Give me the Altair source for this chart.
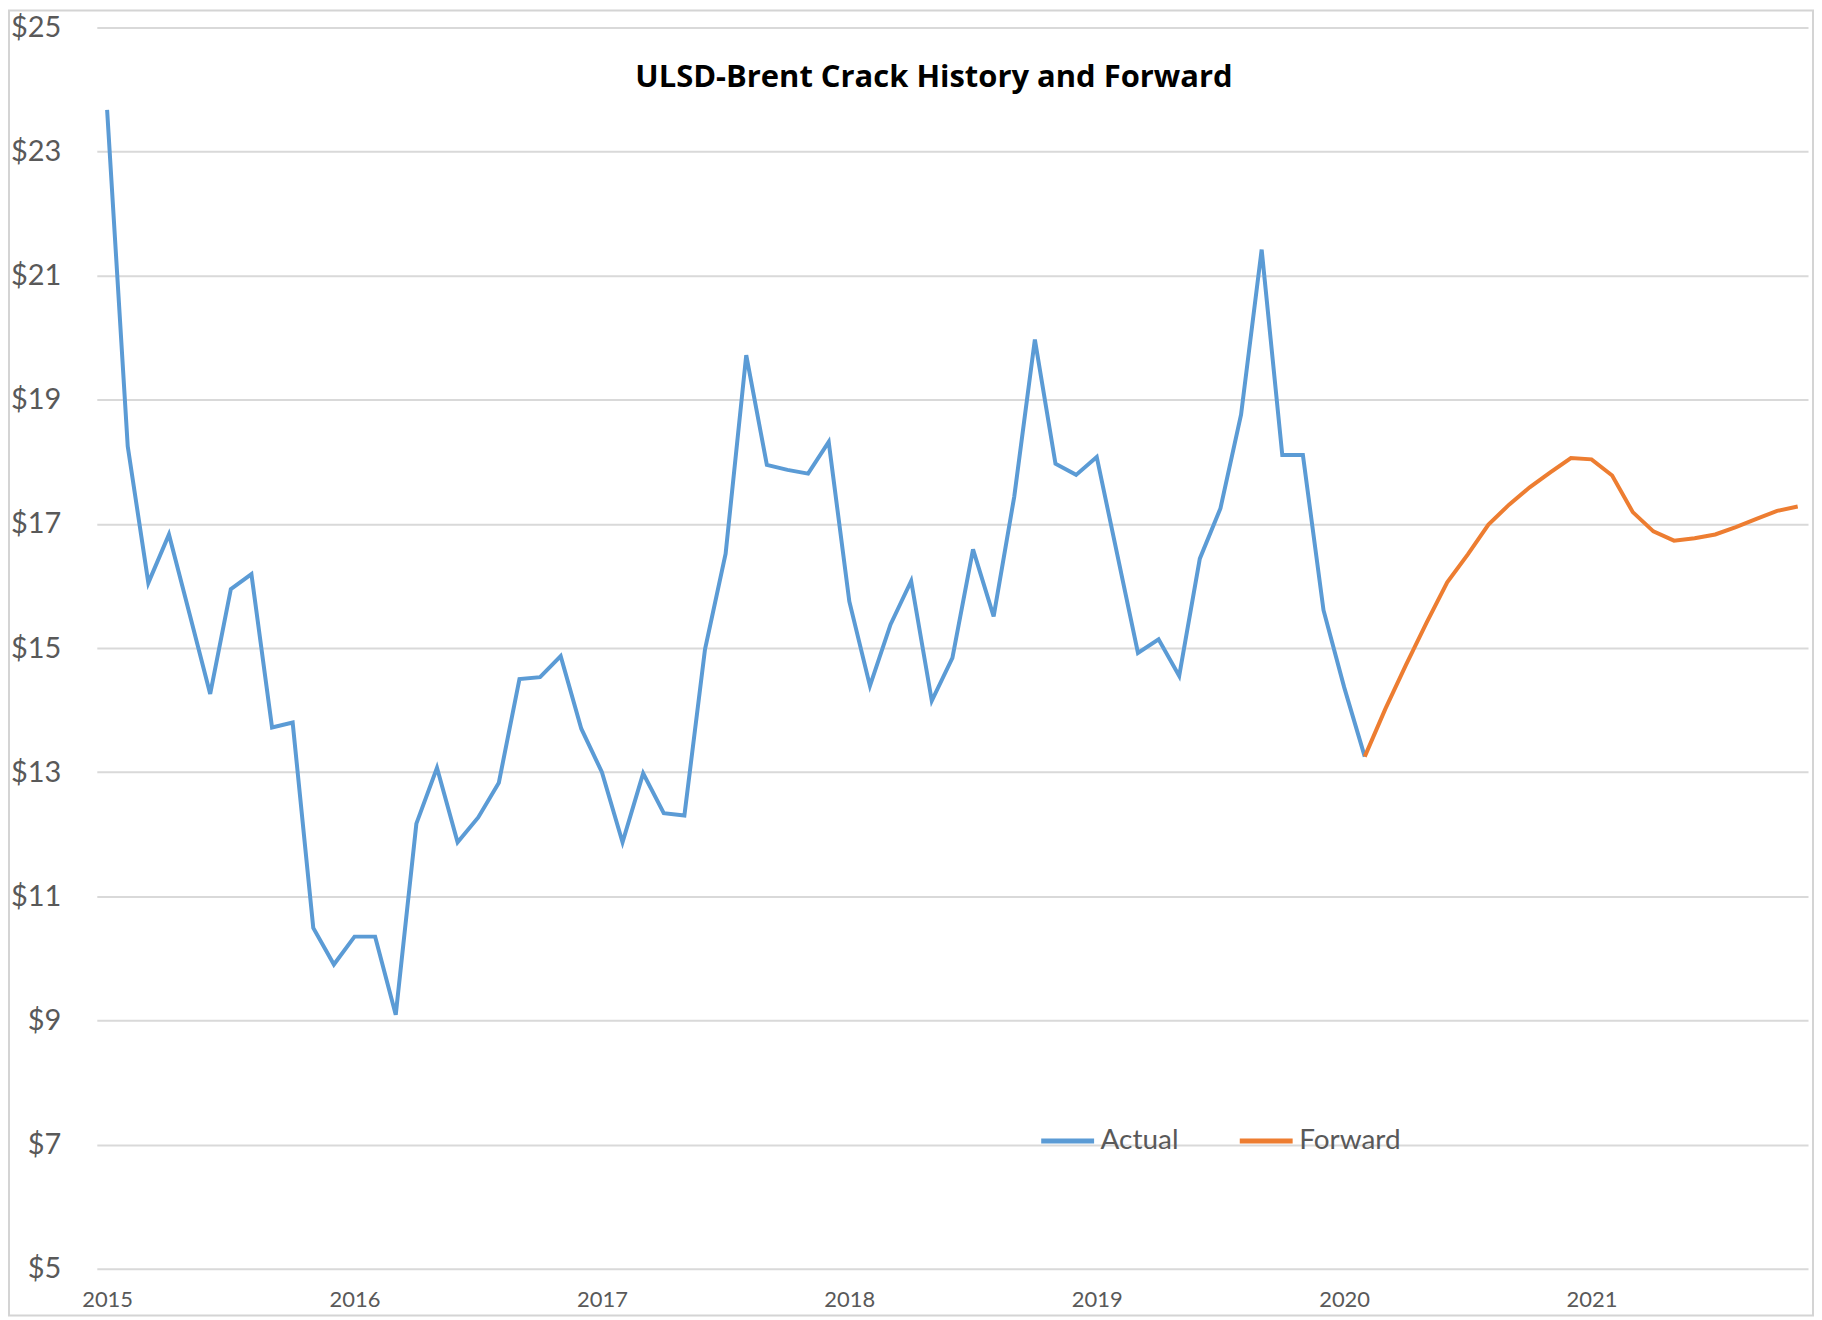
import altair as alt
import pandas as pd

# Monthly ULSD-Brent crack ($/bbl); month index 0 = Jan 2015
start_year = 2015
actual_values = [
    23.67, 18.25, 16.05, 16.83, 15.55, 14.26, 15.95, 16.19, 13.72, 13.80, 10.49, 9.90,   # 2015
    10.35, 10.35, 9.09, 12.17, 13.07, 11.87, 12.27, 12.83, 14.50, 14.53, 14.87, 13.70,   # 2016
    13.00, 11.87, 12.98, 12.34, 12.30, 14.98, 16.52, 19.72, 17.95, 17.87, 17.81, 18.32,  # 2017
    15.75, 14.39, 15.38, 16.08, 14.15, 14.84, 16.59, 15.51, 17.44, 19.97, 17.97, 17.79,  # 2018
    18.08, 16.50, 14.92, 15.14, 14.55, 16.44, 17.25, 18.76, 21.42, 18.11, 18.11, 15.61,  # 2019
    14.37, 13.25,                                                                        # 2020 Jan-Feb
]
forward_start = 61  # Feb 2020
forward_values = [
    13.25, 14.02, 14.73, 15.41, 16.06, 16.51, 16.99, 17.31, 17.59, 17.83, 18.06,         # Feb-Dec 2020
    18.04, 17.78, 17.19, 16.88, 16.73, 16.77, 16.83, 16.95, 17.08, 17.21, 17.28,         # Jan-Nov 2021
]
series_names = ["Actual", "Forward"]
series_colors = ["#5B9BD5", "#ED7D31"]
year_ticks = [2015, 2016, 2017, 2018, 2019, 2020, 2021]
y_ticks = [5, 7, 9, 11, 13, 15, 17, 19, 21, 23, 25]
title_text = "ULSD-Brent Crack History and Forward"

rows = []
for i, v in enumerate(actual_values):
    rows.append({"m": i, "value": v, "series": "Actual", "order": i})
for j, v in enumerate(forward_values):
    rows.append({"m": forward_start + j, "value": v, "series": "Forward", "order": j})
df = pd.DataFrame(rows)

last_month = forward_start + len(forward_values) - 1
tick_months = [(y - start_year) * 12 for y in year_ticks]

W, H = 1715, 1244
PAD_L, PAD_T, PAD_R, PAD_B = 89, 18, 6, 48
FONT = "Lato"

lines = alt.Chart(df).mark_line(strokeWidth=4).encode(
    x=alt.X(
        "m:Q",
        scale=alt.Scale(domain=[-0.5, last_month + 0.5], nice=False, zero=False),
        axis=alt.Axis(
            values=tick_months,
            labelExpr=f"{start_year} + datum.value / 12",
            grid=False,
            ticks=False,
            tickSize=0,
            domain=False,
            title=None,
            labelFont=FONT,
            labelFontSize=22,
            labelColor="#595959",
            labelPadding=21,
        ),
    ),
    y=alt.Y(
        "value:Q",
        scale=alt.Scale(domain=[5, 25], nice=False, zero=False),
        axis=alt.Axis(
            values=y_ticks,
            labelExpr="'$' + datum.value",
            grid=True,
            gridColor="#D9D9D9",
            gridWidth=2,
            ticks=False,
            tickSize=0,
            domain=False,
            title=None,
            labelFont=FONT,
            labelFontSize=29,
            labelColor="#595959",
            labelPadding=36,
        ),
    ),
    color=alt.Color(
        "series:N",
        scale=alt.Scale(domain=series_names, range=series_colors),
        legend=alt.Legend(
            title=None,
            orient="none",
            legendX=944,
            legendY=1087,
            direction="horizontal",
            symbolType="stroke",
            symbolSize=2809,
            symbolStrokeWidth=5,
            labelFont=FONT,
            labelFontSize=28,
            labelColor="#595959",
            labelOffset=4,
            columnPadding=50,
        ),
    ),
    order="order:Q",
)

title = alt.Chart(pd.DataFrame({"t": [title_text]})).mark_text(
    font="Open Sans", fontSize=31, fontWeight="bold", color="#000000",
    align="center", baseline="alphabetic",
).encode(
    text="t:N",
    x=alt.value(839),
    y=alt.value(60),
)

# light outer frame of the chart area
frame = alt.Chart(pd.DataFrame({"f": [0]})).mark_rect(
    fill=None, stroke="#D4D4D4", strokeWidth=2
).encode(
    x=alt.value(-PAD_L + 1),
    x2=alt.value(W + PAD_R - 1),
    y=alt.value(-PAD_T + 1),
    y2=alt.value(H + PAD_B - 1),
)

chart = alt.layer(frame, lines, title).properties(
    width=W,
    height=H,
    autosize=alt.AutoSizeParams(type="none"),
    padding={"left": PAD_L, "top": PAD_T, "right": PAD_R, "bottom": PAD_B},
).configure(background="#FFFFFF").configure_view(stroke="transparent", strokeWidth=0)

chart.save("out.html", embed_options={"renderer": "svg", "actions": False})
